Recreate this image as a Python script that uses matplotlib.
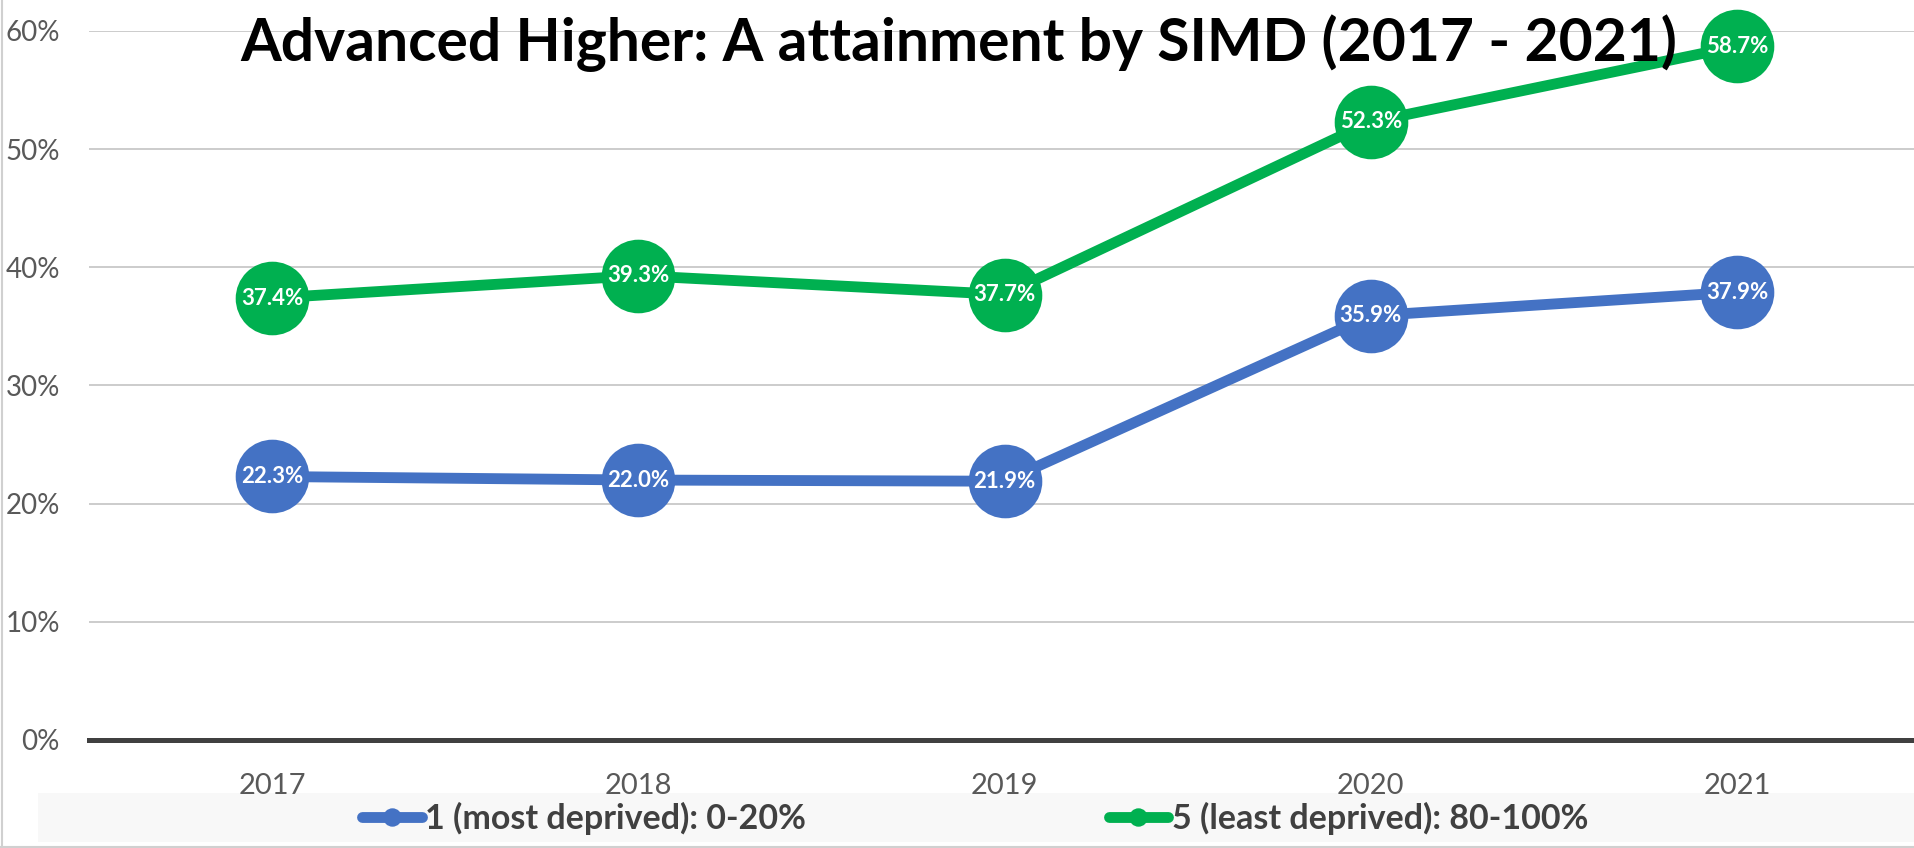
import matplotlib
matplotlib.use("Agg")
import matplotlib.pyplot as plt
from matplotlib.ticker import PercentFormatter
from matplotlib.patches import Rectangle
from matplotlib.lines import Line2D

plt.rcParams['font.family'] = ['Lato', 'DejaVu Sans']

years = ["2017", "2018", "2019", "2020", "2021"]
most_deprived = [22.3, 22.0, 21.9, 35.9, 37.9]
least_deprived = [37.4, 39.3, 37.7, 52.3, 58.7]
series_names = ["1 (most deprived): 0-20%", "5 (least deprived): 80-100%"]
series_colors = ["#4472C4", "#00B050"]
title = "Advanced Higher: A attainment by SIMD (2017 - 2021)"

W, H = 1915, 848
fig = plt.figure(figsize=(W / 100, H / 100), dpi=100)
ax = fig.add_axes([89 / W, 108 / H, 1831 / W, 709 / H])
ax.set_facecolor("none")

x = list(range(len(years)))
for vals, name, col in zip([most_deprived, least_deprived], series_names, series_colors):
    fr = [v / 100 for v in vals]
    ax.plot(x, fr, color=col, lw=7.8, marker="o", ms=53, mew=0,
            solid_capstyle="round", clip_on=False, zorder=3, label=name)
    for xi, v in zip(x, vals):
        ax.text(xi, v / 100, f"{v:.1f}%", ha="center", va="center",
                color="white", fontsize=16, fontweight="bold", zorder=4)

ax.set_xlim(-0.5, 4.5)
ax.set_ylim(0, 0.6)
ax.set_yticks([0, 0.1, 0.2, 0.3, 0.4, 0.5, 0.6])
ax.yaxis.set_major_formatter(PercentFormatter(1.0, decimals=0))
ax.set_xticks(x)
ax.set_xticklabels(years)
ax.grid(axis="y", color="#c8c8c8", lw=1.3, zorder=0)
ax.set_axisbelow(True)
for s in ["top", "right", "left"]:
    ax.spines[s].set_visible(False)
ax.spines["bottom"].set_color("#404040")
ax.spines["bottom"].set_linewidth(3.6)
ax.spines["bottom"].set_zorder(2)
ax.tick_params(axis="y", length=0, pad=21, labelsize=20, labelcolor="#595959")
ax.tick_params(axis="x", length=0, pad=24, labelsize=21, labelcolor="#595959")

# legend band background and chart border
fig.patches.append(Rectangle((38 / W, 6 / H), 1 - 38 / W, 49 / H,
                             transform=fig.transFigure, facecolor="#f8f8f8",
                             edgecolor="none", zorder=-1))
fig.lines.append(Line2D([2 / W, 2 / W], [0, 1], transform=fig.transFigure,
                        color="#d0d0d0", lw=1.5))
fig.lines.append(Line2D([0, 1], [1.5 / H, 1.5 / H], transform=fig.transFigure,
                        color="#d0d0d0", lw=1.5))

handles, labels = ax.get_legend_handles_labels()
leg = fig.legend(handles, labels, loc="center", bbox_to_anchor=(975 / W, 1 - 818 / H),
                 ncol=2, frameon=False, markerscale=0.25, handlelength=1.75,
                 handletextpad=0.1, columnspacing=8.9,
                 prop={"size": 24.5, "weight": "bold"})
for t in leg.get_texts():
    t.set_color("#404040")

fig.text(959 / W, 1 - 61 / H, title, ha="center", va="baseline",
         fontsize=42.3, fontweight="bold", color="black")

fig.savefig("out.png", dpi=100)
